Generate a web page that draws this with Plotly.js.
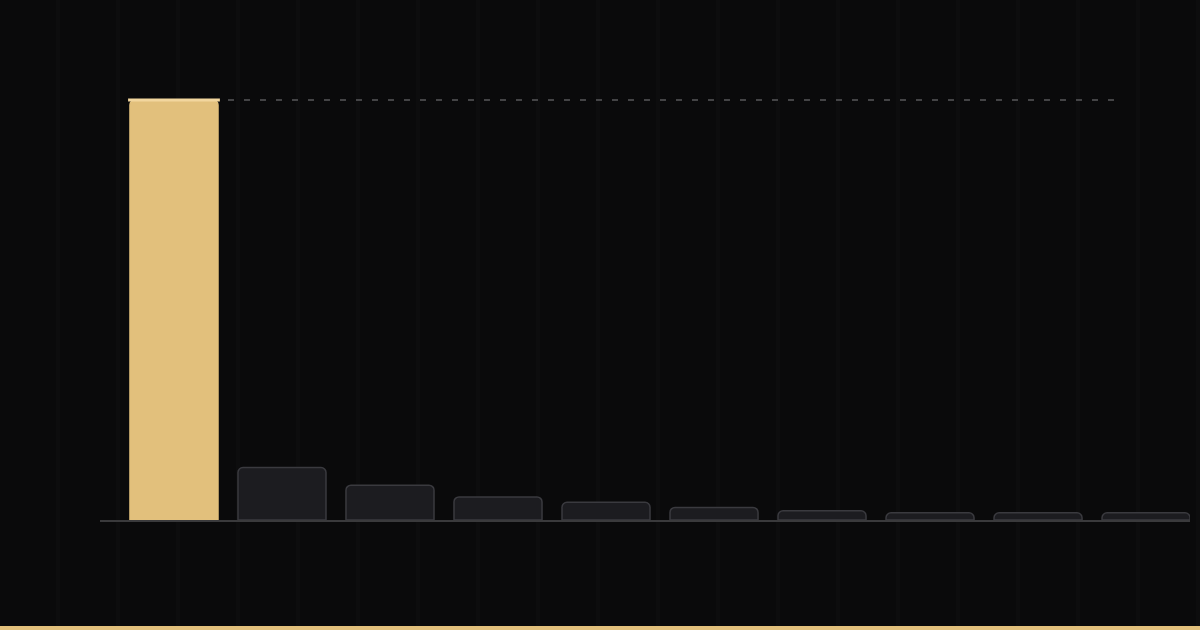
<!DOCTYPE html>
<html>
<head>
<meta charset="utf-8">
<script src="https://cdn.plot.ly/plotly-3.0.1.min.js"></script>
<style>
  html, body { margin:0; padding:0; width:1200px; height:630px; overflow:hidden;
    background-color:#0a0a0b;
    background-image: repeating-linear-gradient(90deg, rgba(255,255,255,0) 0px, rgba(255,255,255,0) 56px, rgba(255,255,255,0.013) 56px, rgba(255,255,255,0.013) 64px, rgba(255,255,255,0) 64px, rgba(255,255,255,0) 60px);
    background-size: 60px 100%;
  }
  #chart { position:absolute; left:0; top:0; width:1200px; height:626px; }
  #strip { position:absolute; left:0; top:626px; width:1200px; height:4px; background:#e2c07c; }
</style>
</head>
<body>
<div id="chart"></div>
<div id="strip"></div>
<script>
// Data
var categories = ["1","2","3","4","5","6","7","8","9","10"];
var values = [100, 12.5, 8.3, 5.5, 4.2, 3.0, 2.2, 1.7, 1.7, 1.7];

var gold = "#e2c07c";
var fillColors = values.map(function(v, i){ return i === 0 ? gold : "#1c1c20"; });
var lineColors = values.map(function(v, i){ return i === 0 ? gold : "#3a3a3f"; });

var maxV = Math.max.apply(null, values);

var trace = {
  type: "bar",
  x: categories.map(function(c, i){ return i; }),
  y: values,
  marker: { color: fillColors, line: { color: lineColors, width: 1.5 }, cornerradius: 5 },
  hoverinfo: "none"
};

var layout = {
  width: 1200, height: 626,
  margin: { l: 100, r: 10, t: 80, b: 106 },
  paper_bgcolor: "rgba(0,0,0,0)",
  plot_bgcolor: "rgba(0,0,0,0)",
  bargap: 0.185,
  showlegend: false,
  xaxis: {
    range: [-0.685, categories.length - 1 + 0.407],
    showgrid: false, zeroline: false, showticklabels: false, ticks: "",
    showline: true, linecolor: "#3a3a3c", linewidth: 1.5
  },
  yaxis: {
    range: [0, maxV * 440 / 420],
    showgrid: false, zeroline: false, showticklabels: false, ticks: "", showline: false
  },
  shapes: [
    { type: "line", xref: "x", yref: "y", x0: 0.5, x1: 8.71, y0: maxV, y1: maxV,
      line: { color: "#58585b", width: 1.3, dash: "6px,10px" } },
    { type: "line", xref: "x", yref: "y", x0: -0.425, x1: 0.425, y0: maxV, y1: maxV,
      line: { color: "#f2d69e", width: 3 } }
  ]
};

Plotly.newPlot("chart", [trace], layout, { displayModeBar: false, staticPlot: true });
</script>
</body>
</html>
